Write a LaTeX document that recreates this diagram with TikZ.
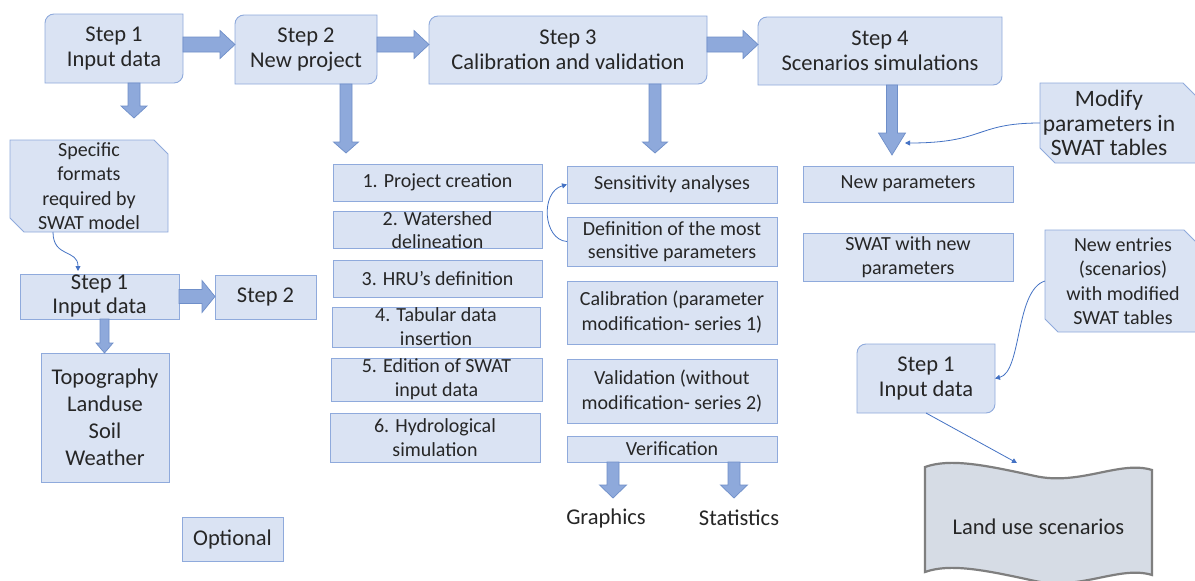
\documentclass[tikz,border=0pt]{standalone}
\usepackage{fontspec}
\setmainfont{Carlito}
\usetikzlibrary{calc,arrows.meta}
\definecolor{boxfill}{HTML}{DAE3F3}
\definecolor{boxline}{HTML}{8FAADC}
\definecolor{arrfill}{HTML}{8EA9DB}
\definecolor{arrline}{HTML}{6F8FC9}
\definecolor{connblue}{HTML}{4472C4}
\definecolor{txt}{HTML}{262626}
\definecolor{tapefill}{HTML}{D6DCE5}
\definecolor{tapeline}{HTML}{7F7F7F}
\tikzset{
  shapebox/.style={fill=boxfill, draw=boxline, line width=0.9pt},
  listbox/.style={shapebox, inner sep=0pt, outer sep=0pt, align=center, text=txt, font=\fontsize{20}{24}\selectfont},
  steptext/.style={inner sep=0pt, outer sep=0pt, align=center, text=txt, font=\fontsize{22.5}{25}\selectfont},
  notetext/.style={inner sep=0pt, outer sep=0pt, align=center, text=txt, font=\fontsize{20}{24.5}\selectfont},
  plaintext/.style={inner sep=0pt, outer sep=0pt, align=center, text=txt, font=\fontsize{22.5}{25}\selectfont},
  barrow/.style={fill=arrfill, draw=arrline, line width=0.7pt},
  connline/.style={draw=connblue, line width=0.8pt, -{Triangle[width=5pt,length=5pt]}},
}
% rounded-diagonal step box: name, cx, cy, w, h, text
\newcommand\stepnode[6]{%
  \filldraw[shapebox] ({#2-#4/2},{#3+#5/2}) -- ({#2-#4/2},{#3-#5/2+9}) arc[start angle=180,end angle=270,radius=9]
    -- ({#2+#4/2},{#3-#5/2}) -- ({#2+#4/2},{#3+#5/2-9}) arc[start angle=0,end angle=90,radius=9] -- cycle;
  \node[steptext, minimum width=#4pt, minimum height=#5pt] (#1) at (#2,#3) {#6};}
% snip-diagonal shape: x1 y1 x2 y2 s
\newcommand\snipshape[5]{%
  \filldraw[shapebox] (#1,#2) -- ({#3-#5},#2) -- (#3,{#2+#5}) -- (#3,#4) -- ({#1+#5},#4) -- (#1,{#4-#5}) -- cycle;}
% block arrows
\newcommand\harrow[5]{%
  \filldraw[barrow] let \p1=#1, \p2=#2 in
   (\x1,\y1-#3) -- (\x2-#5,\y1-#3) -- (\x2-#5,\y1-#4) -- (\x2,\y1) -- (\x2-#5,\y1+#4) -- (\x2-#5,\y1+#3) -- (\x1,\y1+#3) -- cycle;}
\newcommand\varrow[5]{%
  \filldraw[barrow] let \p1=#1, \p2=#2 in
   (\x1-#3,\y1) -- (\x1-#3,\y2+#5) -- (\x1-#4,\y2+#5) -- (\x1,\y2) -- (\x1+#4,\y2+#5) -- (\x1+#3,\y2+#5) -- (\x1+#3,\y1) -- cycle;}
\begin{document}
\begin{tikzpicture}[x=1pt,y=-1pt]
\clip (0,0) rectangle (1195,581);
\fill[white] (0,0) rectangle (1195,581);

% main steps
\stepnode{s1}{114}{48.5}{138}{69}{Step 1\\Input data}
\stepnode{s2}{306}{49.5}{142}{69}{Step 2\\New project}
\stepnode{s3}{568}{50}{278}{68}{Step 3\\Calibration and validation}
\stepnode{s4}{880}{51}{244}{68}{Step 4\\Scenarios simulations}
\stepnode{s1r}{926}{378.5}{138}{69}{Step 1\\Input data}

% step 2 list
\node[listbox, minimum width=209pt, minimum height=37pt] (p1) at (437.5,182.5) {1. Project creation};
\node[listbox, font=\fontsize{20}{23}\selectfont, minimum width=209pt, minimum height=36pt] (p2) at (437.5,230) {2. Watershed\\delineation};
\node[listbox, minimum width=209pt, minimum height=37pt] (p3) at (437.5,278.5) {3. HRU’s definition};
\node[listbox, minimum width=208pt, minimum height=40pt] (p4) at (436,327) {4. Tabular data\\insertion};
\node[listbox, minimum width=211pt, minimum height=43pt] (p5) at (436.5,379.5) {5. Edition of SWAT\\input data};
\node[listbox, minimum width=210pt, minimum height=49pt] (p6) at (435,437.5) {6. Hydrological\\simulation};

% step 3 list
\node[listbox, minimum width=210pt, minimum height=37pt] (sens) at (672,184.5) {Sensitivity analyses};
\node[listbox, font=\fontsize{20}{23}\selectfont, minimum width=210pt, minimum height=49pt] (defn) at (672,241.5) {Definition of the most\\sensitive parameters};
\node[listbox, font=\fontsize{20}{25}\selectfont, minimum width=210pt, minimum height=63pt] (calib) at (672,312.5) {Calibration (parameter\\modification- series 1)};
\node[listbox, font=\fontsize{20}{25}\selectfont, minimum width=210pt, minimum height=64pt] (valid) at (672,391) {Validation (without\\modification- series 2)};
\node[listbox, minimum width=210pt, minimum height=26pt] (verif) at (672,449) {Verification};
\node[plaintext] (gr) at (606,518) {Graphics};
\node[plaintext] (st) at (739,518) {Statistics};

% step 4 list
\node[listbox, minimum width=210pt, minimum height=36pt] (newp) at (908,184) {New parameters};
\node[listbox, minimum width=210pt, minimum height=48pt] (swatn) at (908,257) {SWAT with new\\parameters};

% left detail
\node[listbox, font=\fontsize{22.5}{24}\selectfont, minimum width=159pt, minimum height=45pt] (s1b) at (99.5,296.5) {Step 1\\Input data};
\node[listbox, font=\fontsize{22.5}{24}\selectfont, minimum width=101pt, minimum height=44pt] (s2b) at (265.5,297) {Step 2};
\node[listbox, font=\fontsize{22.5}{27}\selectfont, minimum width=128pt, minimum height=129pt] (topo) at (105,417.5) {Topography\\Landuse\\Soil\\Weather};
\node[listbox, font=\fontsize{22.5}{25}\selectfont, minimum width=101pt, minimum height=44pt] (opt) at (232.5,539) {Optional};

% snipped notes
\snipshape{10}{140}{168}{232}{14}
\node[notetext, minimum width=158pt, minimum height=92pt] (spec) at (89,186) {Specific\\formats\\required by\\SWAT model};
\snipshape{1040}{83}{1198}{163}{15}
\node[notetext, font=\fontsize{23.5}{24.5}\selectfont, minimum width=138pt, minimum height=80pt] (modify) at (1109,123) {Modify\\parameters in\\SWAT tables};
\snipshape{1045}{230}{1197}{332}{13}
\node[notetext, minimum width=156pt, minimum height=102pt] (entries) at (1123,281) {New entries\\(scenarios)\\with modified\\SWAT tables};

% tape
\filldraw[fill=tapefill, draw=tapeline, line width=2.2pt]
  (925,467) .. controls (950,458) and (985,465) .. (1035,476) .. controls (1080,486) and (1120,460) .. (1152,470)
  -- (1152,575) .. controls (1120,565) and (1080,591) .. (1035,581) .. controls (985,570) and (950,563) .. (925,572) -- cycle;
\node[plaintext, minimum width=227pt, minimum height=110pt] (tape) at (1038.5,527) {Land use scenarios};

% coordinates for free ends
\coordinate (c1) at (134,118);
\coordinate (c2) at (346,153);
\coordinate (c3) at (655,153);
\coordinate (c4) at (892,155);
\coordinate (g1) at (613,498);
\coordinate (g2) at (734,498);
\coordinate (mtip) at (905,143);
\coordinate (tapein) at (1017,463);

% block arrows
\harrow{([yshift=4pt]s1.east)}{(s2.west)}{7.5pt}{14pt}{15pt}
\harrow{([yshift=5pt]s2.east)}{(s3.west)}{7.5pt}{14pt}{15pt}
\harrow{([yshift=5.5pt]s3.east)}{(s4.west)}{7.5pt}{14pt}{15pt}
\varrow{([xshift=20pt]s1.south)}{(c1)}{6pt}{13pt}{12pt}
\varrow{([xshift=40pt]s2.south)}{(c2)}{6pt}{12.5pt}{11pt}
\varrow{([xshift=87pt]s3.south)}{(c3)}{6pt}{12.5pt}{11pt}
\varrow{([xshift=12pt]s4.south)}{(c4)}{5.5pt}{13.5pt}{22pt}
\harrow{(s1b.east)}{(s2b.west)}{7pt}{16pt}{13pt}
\varrow{([xshift=5pt]s1b.south)}{(topo.north)}{4.5pt}{8.5pt}{10pt}
\varrow{([xshift=-59pt]verif.south)}{(g1)}{6pt}{13.5pt}{13pt}
\varrow{([xshift=62pt]verif.south)}{(g2)}{6pt}{13.5pt}{13pt}

% thin connectors
\draw[connline] ([xshift=-36pt]spec.south) .. controls +(0,26) and +(0,-22) .. ([xshift=-21.5pt,yshift=3pt]s1b.north);
\draw[connline] (modify.west) .. controls (975,123) and (985,143) .. (mtip);
\draw[connline] (defn.west) .. controls (543,240) and (540,192) .. (sens.west);
\draw[connline] (entries.west) .. controls (1015,290) and (1022,372) .. (s1r.east);
\draw[connline] (s1r.south) -- (tapein);
\end{tikzpicture}
\end{document}
